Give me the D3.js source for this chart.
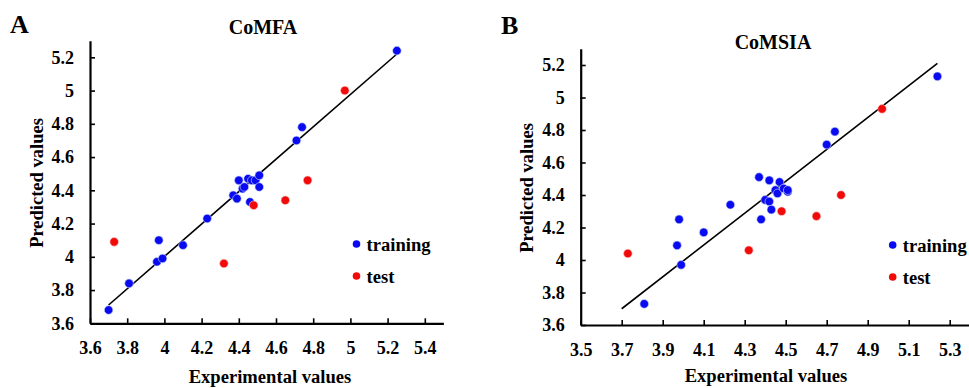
<!DOCTYPE html>
<html><head><meta charset="utf-8">
<script src="https://cdn.jsdelivr.net/npm/d3@7"></script>
<style>
body{margin:0;background:#fff;}
svg text{font-family:"Liberation Serif","Times New Roman",serif;font-weight:bold;fill:#000;}
</style></head><body>
<svg id="c" width="969" height="388"></svg>
<script>
// ---- data ----
const comfaTrainExp  = [3.70,3.81,3.96,3.99,3.97,4.10,4.23,4.37,4.39,4.40,4.42,4.43,4.45,4.47,4.49,4.51,4.51,4.46,4.71,4.74,5.25];
const comfaTrainPred = [3.68,3.84,3.97,3.99,4.10,4.07,4.23,4.37,4.35,4.46,4.41,4.42,4.47,4.46,4.46,4.49,4.42,4.33,4.70,4.78,5.24];
const comfaTestExp   = [3.73,4.32,4.48,4.65,4.77,4.97];
const comfaTestPred  = [4.09,3.96,4.31,4.34,4.46,5.00];
const comfaFitX = [3.70,5.25];
const comfaFitY = [3.71,5.22];

const comsiaTrainExp  = [3.81,3.97,3.98,3.99,4.10,4.23,4.37,4.38,4.40,4.42,4.42,4.43,4.45,4.46,4.47,4.49,4.51,4.51,4.70,4.74,5.24];
const comsiaTrainPred = [3.73,4.09,4.25,3.97,4.17,4.34,4.51,4.25,4.37,4.36,4.49,4.31,4.43,4.41,4.48,4.44,4.42,4.43,4.71,4.79,5.13];
const comsiaTestExp   = [3.73,4.32,4.48,4.65,4.77,4.97];
const comsiaTestPred  = [4.04,4.06,4.30,4.27,4.40,4.93];
const comsiaFitX = [3.70,5.24];
const comsiaFitY = [3.70,5.21];

const xTicksA = [3.6,3.8,4.0,4.2,4.4,4.6,4.8,5.0,5.2,5.4];
const xTicksB = [3.5,3.7,3.9,4.1,4.3,4.5,4.7,4.9,5.1,5.3];
const yTicks  = [3.6,3.8,4.0,4.2,4.4,4.6,4.8,5.0,5.2];
const legendLabels = ["training","test"];
const colors = {training:"#0a0af0", test:"#f00a0a"};

const svg = d3.select("#c");
const fmt = v => String(+v.toFixed(1));

function panel(cfg){
  const g = svg.append("g");
  const x = d3.scaleLinear().domain(cfg.xDom).range(cfg.xRange);
  const y = d3.scaleLinear().domain(cfg.yDom).range(cfg.yRange);
  const ax = g.append("g").attr("transform",`translate(0,${cfg.yRange[0]})`)
    .call(d3.axisBottom(x).tickValues(cfg.xTicks).tickFormat(fmt).tickSizeInner(-5).tickSizeOuter(0).tickPadding(18));
  const ay = g.append("g").attr("transform",`translate(${cfg.xRange[0]},0)`)
    .call(d3.axisLeft(y).tickValues(yTicks).tickFormat(fmt).tickSizeInner(-5).tickSizeOuter(0).tickPadding(16));
  [ax,ay].forEach(a=>{
    a.select(".domain").attr("stroke","#000").attr("stroke-width",2.2);
    a.selectAll(".tick line").attr("stroke","#000").attr("stroke-width",1.6);
    a.selectAll(".tick text").style("font-size","18px");
  });
  // fit line
  g.append("path").datum(cfg.fitX.map((v,i)=>[v,cfg.fitY[i]]))
    .attr("d", d3.line().x(d=>x(d[0])).y(d=>y(d[1])))
    .attr("stroke","#000").attr("stroke-width",1.6).attr("fill","none");
  const pts = (ex,pr)=>ex.map((v,i)=>[v,pr[i]]);
  g.selectAll(null).data(pts(cfg.trE,cfg.trP)).join("circle")
    .attr("cx",d=>x(d[0])).attr("cy",d=>y(d[1])).attr("r",4.3)
    .attr("fill",colors.training).attr("stroke","#cfe0ff").attr("stroke-width",0.6);
  g.selectAll(null).data(pts(cfg.teE,cfg.teP)).join("circle")
    .attr("cx",d=>x(d[0])).attr("cy",d=>y(d[1])).attr("r",4.3)
    .attr("fill",colors.test).attr("stroke","#ffd0d0").attr("stroke-width",0.6);
  // titles
  g.append("text").attr("x",cfg.title[1]).attr("y",cfg.title[2]).attr("text-anchor","middle")
    .style("font-size","20px").text(cfg.title[0]);
  g.append("text").attr("x",cfg.letter[1]).attr("y",cfg.letter[2])
    .style("font-size","26px").text(cfg.letter[0]);
  g.append("text").attr("x",cfg.xt[0]).attr("y",cfg.xt[1]).attr("text-anchor","middle")
    .style("font-size","18.6px").text("Experimental values");
  g.append("text").attr("transform",`translate(${cfg.yt[0]},${cfg.yt[1]}) rotate(-90)`).attr("text-anchor","middle")
    .style("font-size","18.5px").text("Predicted values");
  // legend
  legendLabels.forEach((lab,i)=>{
    const ly = cfg.leg[1] + i*32;
    g.append("circle").attr("cx",cfg.leg[0]).attr("cy",ly).attr("r",3.8).attr("fill",colors[lab]);
    g.append("text").attr("x",cfg.leg[0]+10).attr("y",ly+7).style("font-size","18.6px").text(lab);
  });
}

panel({xDom:[3.6,5.5], xRange:[90,443.4], yDom:[3.6,5.3], yRange:[323.3,40.7], xTicks:xTicksA,
  fitX:comfaFitX, fitY:comfaFitY, trE:comfaTrainExp, trP:comfaTrainPred, teE:comfaTestExp, teP:comfaTestPred,
  title:["CoMFA",263,34], letter:["A",10,33], xt:[270,383], yt:[43,183], leg:[356.5,244]});
panel({xDom:[3.5,5.4], xRange:[580.7,970.2], yDom:[3.6,5.3], yRange:[325,48.75], xTicks:xTicksB,
  fitX:comsiaFitX, fitY:comsiaFitY, trE:comsiaTrainExp, trP:comsiaTrainPred, teE:comsiaTestExp, teP:comsiaTestPred,
  title:["CoMSIA",773,49], letter:["B",501,34], xt:[766,382], yt:[533,188], leg:[892.7,245]});
</script>
</body></html>
